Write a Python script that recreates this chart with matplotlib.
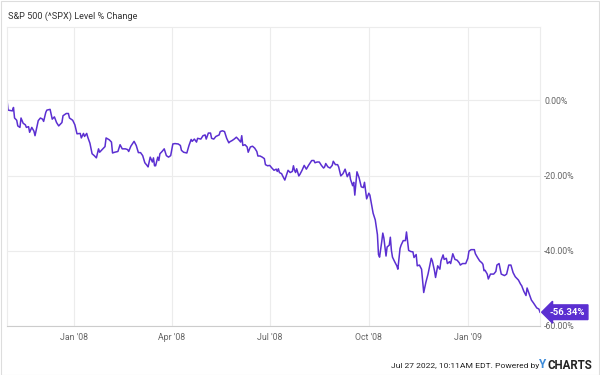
import pandas as pd
import matplotlib
matplotlib.use("Agg")
import matplotlib.pyplot as plt
from matplotlib.patches import Rectangle

plt.rcParams['font.family'] = ['Roboto', 'DejaVu Sans']

# S&P 500 % change since 2007-10-31
dates = [
    "2007-10-31", "2007-11-01", "2007-11-05", "2007-11-06", "2007-11-07", "2007-11-09", "2007-11-10",
    "2007-11-12", "2007-11-13", "2007-11-15", "2007-11-17", "2007-11-18", "2007-11-20", "2007-11-21",
    "2007-11-23", "2007-11-25", "2007-11-26", "2007-11-29", "2007-12-01", "2007-12-03", "2007-12-04",
    "2007-12-06", "2007-12-07", "2007-12-10", "2007-12-12", "2007-12-14", "2007-12-16", "2007-12-18",
    "2007-12-21", "2007-12-22", "2007-12-25", "2007-12-27", "2007-12-28", "2007-12-31",
    "2008-01-02", "2008-01-04", "2008-01-07", "2008-01-08", "2008-01-10", "2008-01-11", "2008-01-13",
    "2008-01-14", "2008-01-16", "2008-01-18", "2008-01-20", "2008-01-22", "2008-01-24", "2008-01-25",
    "2008-01-27", "2008-01-30", "2008-01-31", "2008-02-03", "2008-02-05", "2008-02-06", "2008-02-08",
    "2008-02-11", "2008-02-13", "2008-02-15", "2008-02-18", "2008-02-20", "2008-02-21", "2008-02-23",
    "2008-02-26", "2008-02-28", "2008-03-01", "2008-03-03", "2008-03-05", "2008-03-07", "2008-03-09",
    "2008-03-10", "2008-03-12", "2008-03-14", "2008-03-15", "2008-03-16", "2008-03-17", "2008-03-19",
    "2008-03-20", "2008-03-21", "2008-03-23", "2008-03-25", "2008-03-27", "2008-03-29", "2008-03-31",
    "2008-04-02", "2008-04-04", "2008-04-07", "2008-04-09", "2008-04-10", "2008-04-12", "2008-04-15",
    "2008-04-17", "2008-04-19", "2008-04-20", "2008-04-22", "2008-04-24", "2008-04-25", "2008-04-28",
    "2008-04-30", "2008-05-02", "2008-05-03", "2008-05-05", "2008-05-07", "2008-05-08", "2008-05-10",
    "2008-05-12", "2008-05-15", "2008-05-16", "2008-05-18", "2008-05-20", "2008-05-22", "2008-05-24",
    "2008-05-25", "2008-05-27", "2008-05-29", "2008-05-31", "2008-06-02", "2008-06-04", "2008-06-05",
    "2008-06-06", "2008-06-08", "2008-06-10", "2008-06-11", "2008-06-13", "2008-06-15", "2008-06-17",
    "2008-06-19", "2008-06-20", "2008-06-22", "2008-06-24", "2008-06-26", "2008-06-27", "2008-06-29",
    "2008-07-01", "2008-07-03", "2008-07-05", "2008-07-07", "2008-07-08", "2008-07-09", "2008-07-10",
    "2008-07-12", "2008-07-13", "2008-07-15", "2008-07-17", "2008-07-18", "2008-07-20", "2008-07-22",
    "2008-07-23", "2008-07-24", "2008-07-25", "2008-07-26", "2008-07-28", "2008-07-29", "2008-07-31",
    "2008-08-02", "2008-08-04", "2008-08-06", "2008-08-08", "2008-08-09", "2008-08-11", "2008-08-12",
    "2008-08-14", "2008-08-16", "2008-08-18", "2008-08-20", "2008-08-21", "2008-08-22", "2008-08-24",
    "2008-08-26", "2008-08-28", "2008-08-29", "2008-08-31", "2008-09-02", "2008-09-03", "2008-09-05",
    "2008-09-07", "2008-09-09", "2008-09-11", "2008-09-13", "2008-09-14", "2008-09-16", "2008-09-17",
    "2008-09-18", "2008-09-20", "2008-09-22", "2008-09-24", "2008-09-26", "2008-09-27", "2008-09-29",
    "2008-10-01", "2008-10-02", "2008-10-04", "2008-10-05", "2008-10-07", "2008-10-09", "2008-10-10",
    "2008-10-11", "2008-10-13", "2008-10-14", "2008-10-15", "2008-10-17", "2008-10-18", "2008-10-20",
    "2008-10-21", "2008-10-22", "2008-10-23", "2008-10-25", "2008-10-27", "2008-10-28", "2008-10-30",
    "2008-10-31", "2008-11-02", "2008-11-04", "2008-11-05", "2008-11-07", "2008-11-09", "2008-11-11",
    "2008-11-12", "2008-11-14", "2008-11-15", "2008-11-17", "2008-11-19", "2008-11-21", "2008-11-23",
    "2008-11-25", "2008-11-28", "2008-11-29", "2008-12-01", "2008-12-02", "2008-12-04", "2008-12-06",
    "2008-12-07", "2008-12-09", "2008-12-10", "2008-12-12", "2008-12-13", "2008-12-15", "2008-12-16",
    "2008-12-18", "2008-12-20", "2008-12-22", "2008-12-24", "2008-12-25", "2008-12-27", "2008-12-30",
    "2009-01-01", "2009-01-02", "2009-01-04", "2009-01-07", "2009-01-08", "2009-01-10", "2009-01-12",
    "2009-01-14", "2009-01-15", "2009-01-16", "2009-01-17", "2009-01-19", "2009-01-20", "2009-01-22",
    "2009-01-25", "2009-01-27", "2009-01-28", "2009-01-30", "2009-02-01", "2009-02-04", "2009-02-06",
    "2009-02-08", "2009-02-10", "2009-02-12", "2009-02-14", "2009-02-17", "2009-02-19", "2009-02-20",
    "2009-02-22", "2009-02-24", "2009-02-25", "2009-02-27", "2009-03-01", "2009-03-03", "2009-03-05",
    "2009-03-06", "2009-03-08", "2009-03-09",
]
pct_change = [
    0.0, -2.6, -2.8, -1.9, -4.7, -5.3, -6.8,
    -7.2, -4.7, -6.1, -6.5, -7.2, -7.0, -8.5,
    -7.2, -8.2, -9.4, -5.4, -4.7, -5.0, -5.6,
    -3.2, -2.6, -2.4, -5.0, -4.4, -5.9, -6.8,
    -5.9, -4.1, -3.5, -3.5, -4.7, -5.3,
    -6.5, -8.9, -8.8, -10.0, -8.8, -9.6, -8.8,
    -9.8, -11.4, -14.2, -14.7, -15.3, -12.9, -13.8,
    -13.2, -12.3, -10.0, -10.5, -11.1, -14.0, -13.8,
    -13.6, -11.8, -12.9, -12.9, -13.1, -13.6, -12.2,
    -10.9, -12.0, -13.9, -13.9, -14.7, -16.6, -17.3,
    -17.7, -15.1, -16.4, -15.3, -17.4, -17.4, -15.1,
    -16.0, -14.2, -13.6, -12.9, -14.7, -15.1, -14.7,
    -11.6, -11.5, -11.6, -12.0, -13.3, -13.8, -14.0,
    -12.0, -10.4, -10.9, -10.3, -11.1, -10.1, -10.3,
    -9.4, -9.2, -10.3, -8.7, -8.7, -10.1, -10.3,
    -9.6, -9.2, -8.3, -8.1, -8.3, -10.1, -11.3,
    -11.0, -10.7, -10.3, -9.8, -10.4, -11.1, -9.4,
    -12.0, -11.8, -12.4, -13.8, -12.4, -12.2, -12.7,
    -13.6, -14.8, -14.8, -15.1, -15.5, -17.1, -17.4,
    -17.3, -18.0, -18.6, -18.3, -18.9, -18.2, -19.2,
    -19.5, -20.1, -21.2, -19.5, -18.6, -19.2, -18.9,
    -17.4, -18.6, -19.2, -18.2, -20.1, -19.7, -18.6,
    -17.3, -18.3, -17.3, -16.4, -16.0, -16.0, -16.6,
    -16.4, -16.4, -17.3, -18.0, -17.7, -16.8, -17.7,
    -18.0, -17.3, -16.2, -17.1, -17.1, -17.7, -20.1,
    -19.5, -18.3, -20.3, -19.2, -21.0, -22.7, -21.8,
    -25.2, -19.0, -20.6, -23.0, -23.2, -21.8, -26.2,
    -24.7, -25.2, -28.5, -30.0, -31.8, -35.7, -41.0,
    -41.7, -37.6, -35.3, -36.6, -41.4, -39.0, -38.5,
    -36.4, -39.9, -41.7, -42.9, -44.0, -44.9, -39.4,
    -38.5, -37.3, -37.3, -35.0, -39.9, -40.2, -40.3,
    -41.8, -41.0, -44.0, -43.8, -44.9, -51.1, -48.4,
    -46.2, -42.0, -42.7, -45.3, -47.1, -44.0, -44.9,
    -42.7, -41.1, -42.3, -42.0, -43.4, -42.9, -43.4,
    -40.8, -42.3, -42.5, -43.2, -43.8, -43.4, -43.4,
    -42.0, -40.1, -39.7, -39.7, -40.8, -41.8, -42.7,
    -43.2, -43.6, -45.3, -45.2, -46.2, -47.5, -46.2,
    -46.2, -45.5, -43.8, -43.4, -46.2, -46.6, -46.2,
    -43.8, -43.8, -45.8, -46.9, -47.8, -48.9, -49.3,
    -50.8, -51.9, -49.9, -51.5, -53.1, -53.9, -54.8,
    -55.2, -55.5, -56.34,
]

tick_dates = ["2008-01-01", "2008-04-01", "2008-07-01", "2008-10-01", "2009-01-01"]
tick_labels = ["Jan '08", "Apr '08", "Jul '08", "Oct '08", "Jan '09"]
y_ticks = [0, -20, -40, -60]

line_color = "#5b2fd1"
grid_color = "#ececec"
text_color = "#666666"

x = pd.to_datetime(dates)

fig = plt.figure(figsize=(6, 3.75), dpi=100)
fig.patch.set_facecolor("white")
fig.patches.append(Rectangle((0.001, 0.001), 0.997, 0.997, transform=fig.transFigure,
                             fill=False, edgecolor="#dddddd", linewidth=0.8))

ax = fig.add_axes([0.0117, 0.1307, 0.8883, 0.7973])
ax.plot(x, pct_change, color=line_color, linewidth=1.1)

ax.set_xlim(pd.Timestamp("2007-10-31"), pd.Timestamp("2009-03-09"))
ax.set_ylim(-60, 19.5)

ax.set_xticks(pd.to_datetime(tick_dates))
ax.set_xticklabels(tick_labels)
ax.set_yticks(y_ticks)
ax.set_yticklabels(["{:.2f}%".format(v) for v in y_ticks])
ax.yaxis.tick_right()
ax.tick_params(axis="both", length=0, labelsize=6.3, colors=text_color)
ax.tick_params(axis="x", pad=5)
ax.tick_params(axis="y", pad=3)
ax.grid(True, color=grid_color, linewidth=0.8)
ax.set_axisbelow(True)
for s in ax.spines.values():
    s.set_color(grid_color)
    s.set_linewidth(0.8)
ax.spines["bottom"].set_color("#cccccc")

# last value badge
ax.annotate("{:.2f}%".format(pct_change[-1]), xy=(x[-1], pct_change[-1]),
            xytext=(7, 0), textcoords="offset points", ha="left", va="center",
            color="white", fontsize=6.8, fontweight="bold", annotation_clip=False,
            bbox=dict(boxstyle="larrow,pad=0.3", fc=line_color, ec=line_color))

fig.text(0.013, 0.957, "S&P 500 (^SPX) Level % Change", fontsize=6.6, color="#333333",
         ha="left", va="center")
fig.text(0.898, 0.025, "Jul 27 2022, 10:11AM EDT. Powered by", fontsize=6.1,
         color="#222222", ha="right", va="center")
fig.text(0.899, 0.027, "Y", fontsize=8.5, color="#3d8bd9", fontweight="bold",
         ha="left", va="center")
fig.text(0.912, 0.025, "CHARTS", fontsize=8.3, color="#222222", fontweight="bold",
         ha="left", va="center")

fig.savefig("out.png", dpi=100, facecolor="white")
